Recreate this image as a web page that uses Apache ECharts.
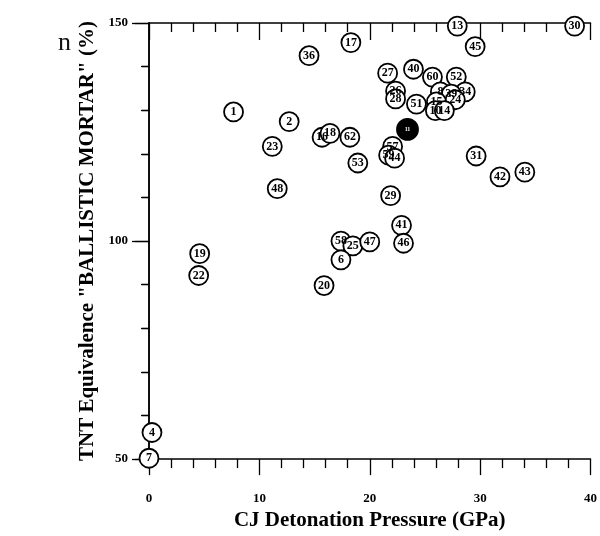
<!DOCTYPE html>
<html>
<head>
<meta charset="utf-8">
<script src="https://cdn.jsdelivr.net/npm/echarts@6/dist/echarts.min.js"></script>
<style>html,body{margin:0;padding:0;background:#fff}#c{width:600px;height:536px}</style>
</head>
<body>
<div id="c"></div>
<script>
const labels = ['1','2','23','48','19','22','4','7','36','17','13','30','45','27','40','60','52','26','28','51','8','34','39','15','24','10','14','11','16','18','62','57','59','44','53','29','41','46','58','25','47','6','20','31','42','43'];
const pressure = [7.66,12.70,11.17,11.62,4.59,4.50,0.27,0.0,14.5,18.29,27.93,38.56,29.55,21.62,23.96,25.68,27.84,22.34,22.34,24.23,26.4,28.65,27.39,26.04,27.75,25.95,26.76,23.42,15.68,16.40,18.2,22.07,21.71,22.25,18.92,21.89,22.88,23.06,17.39,18.47,20.0,17.39,15.86,29.64,31.8,34.05];
const tntEq = [129.6,127.4,121.7,112.0,97.1,92.1,56.1,50.2,142.5,145.5,149.3,149.3,144.6,138.5,139.4,137.6,137.6,134.4,132.6,131.4,134.2,134.2,133.7,131.9,132.4,129.9,129.9,125.6,123.8,124.7,123.8,121.7,119.7,119.0,117.9,110.4,103.6,99.5,100.0,98.9,99.8,95.7,89.8,119.5,114.7,115.8];
const filledLabels = ['11'];
const xTitle = 'CJ Detonation Pressure (GPa)';
const yTitle = 'TNT Equivalence "BALLISTIC MORTAR" (%)';

const serif = '"Liberation Serif","DejaVu Serif",serif';
const data = labels.map((l, i) => {
  const filled = filledLabels.includes(l);
  return {
    value: [pressure[i], tntEq[i]],
    name: l,
    itemStyle: filled ? {color: '#000', borderColor: '#000'} : undefined,
    label: filled ? {color: '#fff', fontSize: 6} : undefined,
    symbolSize: filled ? 21 : 19
  };
});
const axisLine = {show: true, lineStyle: {color: '#000', width: 1.5}};
const chart = echarts.init(document.getElementById('c'));
chart.setOption({
  animation: false,
  backgroundColor: '#fff',
  grid: {left: 149, right: 6, top: 23, bottom: 72},
  graphic: [{type: 'text', left: 58, top: 30, style: {text: 'n', font: '26px ' + serif, fill: '#111'}}],
  xAxis: [{
    type: 'value', min: 0, max: 40, interval: 10, position: 'bottom',
    axisLine: axisLine, splitLine: {show: false},
    axisTick: {show: true, inside: false, length: 16, lineStyle: {color: '#000', width: 1.3}},
    minorTick: {show: true, splitNumber: 5, length: 9, lineStyle: {color: '#000', width: 1.3}},
    axisLabel: {margin: 33, color: '#000', fontFamily: serif, fontWeight: 'bold', fontSize: 13},
    name: xTitle, nameLocation: 'middle', nameGap: 46,
    nameTextStyle: {color: '#000', fontFamily: serif, fontWeight: 'bold', fontSize: 21}
  }, {
    type: 'value', min: 0, max: 40, interval: 10, position: 'top',
    axisLine: axisLine, splitLine: {show: false},
    axisTick: {show: true, inside: true, length: 17, lineStyle: {color: '#000', width: 1.3}},
    minorTick: {show: true, splitNumber: 5, length: 9, lineStyle: {color: '#000', width: 1.3}},
    axisLabel: {show: false}
  }],
  yAxis: [{
    type: 'value', min: 50, max: 150, interval: 50, position: 'left',
    axisLine: axisLine, splitLine: {show: false},
    axisTick: {show: true, inside: false, length: 14, lineStyle: {color: '#000', width: 1.3}},
    minorTick: {show: true, splitNumber: 5, length: 7, lineStyle: {color: '#000', width: 1.3}},
    axisLabel: {margin: 21, color: '#000', fontFamily: serif, fontWeight: 'bold', fontSize: 13},
    name: yTitle, nameLocation: 'middle', nameGap: 46, nameRotate: 90,
    nameTextStyle: {color: '#000', fontFamily: serif, fontWeight: 'bold', fontSize: 21}
  }, {
    type: 'value', min: 50, max: 150, interval: 50, position: 'right',
    axisLine: axisLine, splitLine: {show: false},
    axisTick: {show: true, inside: true, length: 17, lineStyle: {color: '#000', width: 1.3}},
    minorTick: {show: true, splitNumber: 5, length: 8, lineStyle: {color: '#000', width: 1.3}},
    axisLabel: {show: false}
  }],
  series: [{
    type: 'scatter', xAxisIndex: 0, yAxisIndex: 0, clip: false,
    symbol: 'circle', symbolSize: 19,
    itemStyle: {color: '#fff', borderColor: '#000', borderWidth: 1.8, opacity: 1},
    label: {show: true, position: 'inside', formatter: p => p.name, color: '#000',
            fontFamily: serif, fontWeight: 'bold', fontSize: 12},
    data: data
  }]
});
</script>
</body>
</html>
